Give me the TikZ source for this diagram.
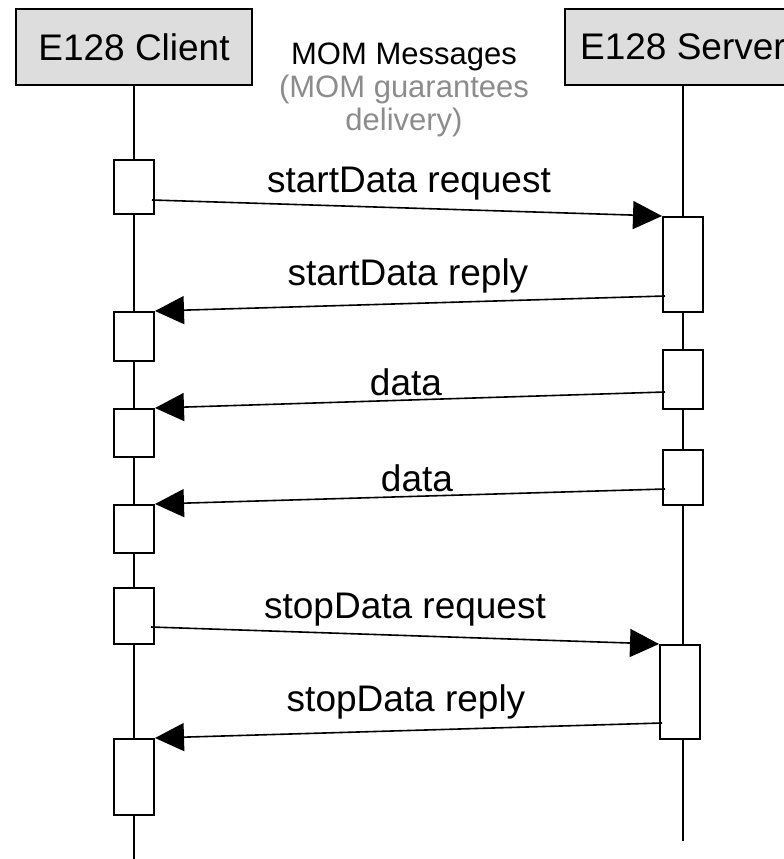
\documentclass[tikz,border=0pt]{standalone}
\usepackage{fontspec}
\setmainfont{Liberation Sans}
\usetikzlibrary{arrows.meta}
\definecolor{headgray}{HTML}{DDDDDD}
\definecolor{notegray}{HTML}{8C8C8C}
\begin{document}
\begin{tikzpicture}[x=1pt,y=-1pt,
  head/.style={draw, line width=2pt, fill=headgray, minimum width=236pt, minimum height=76pt, inner sep=0pt, anchor=north, font=\fontsize{37}{40}\selectfont},
  act/.style={draw, line width=2pt, fill=white, minimum width=40pt, inner sep=0pt, anchor=north},
  life/.style={line width=2pt},
  msg/.style={line width=1.6pt, -{Triangle[length=29pt,width=28pt]}},
  lbl/.style={anchor=base, inner sep=0pt, font=\fontsize{37}{40}\selectfont},
  note/.style={anchor=base, inner sep=0pt, align=center, font=\fontsize{31}{33}\selectfont}
]
\useasboundingbox (0,0) rectangle (784,859);
\clip (0,0) rectangle (784,859);

% headers
\node[head] (client) at (134,8) {E128 Client};
\node[head] (server) at (683,8) {E128 Server};

% lifelines
\coordinate (cend) at (134,859);
\coordinate (send) at (683,841);
\draw[life] (client.south) -- (cend);
\draw[life] (server.south) -- (send);

% activation boxes: client
\node[act, minimum height=54pt] (c1) at (134,159) {};
\node[act, minimum height=49pt] (c2) at (134,311) {};
\node[act, minimum height=48pt] (c3) at (134,408) {};
\node[act, minimum height=48pt] (c4) at (134,504) {};
\node[act, minimum height=56pt] (c5) at (134,587) {};
\node[act, minimum height=76pt] (c6) at (134,738) {};

% activation boxes: server
\node[act, minimum height=95pt] (s1) at (683,216) {};
\node[act, minimum height=59pt] (s2) at (683,349) {};
\node[act, minimum height=55pt] (s3) at (683,449) {};
\node[act, minimum height=94pt] (s4) at (680,644) {};

% message start points
\coordinate (m1) at (152,200);
\coordinate (m2) at (665,296);
\coordinate (m3) at (665,392);
\coordinate (m4) at (665,489);
\coordinate (m5) at (151,627);
\coordinate (m6) at (662,723);

% messages
\draw[msg] (m1) -- (s1.north west);
\draw[msg] (m2) -- (c2.north east);
\draw[msg] (m3) -- (c3.north east);
\draw[msg] (m4) -- (c4.north east);
\draw[msg] (m5) -- (s4.north west);
\draw[msg] (m6) -- (c6.north east);

% labels
\node[note] (mom) at (404,130) {MOM Messages\\\textcolor{notegray}{(MOM guarantees}\\\textcolor{notegray}{delivery)}};
\node[lbl] (l1) at (409,192) {startData request};
\node[lbl] (l2) at (408,285) {startData reply};
\node[lbl] (l3) at (406,395) {data};
\node[lbl] (l4) at (417,491) {data};
\node[lbl] (l5) at (405,618) {stopData request};
\node[lbl] (l6) at (406,711) {stopData reply};
\end{tikzpicture}
\end{document}
